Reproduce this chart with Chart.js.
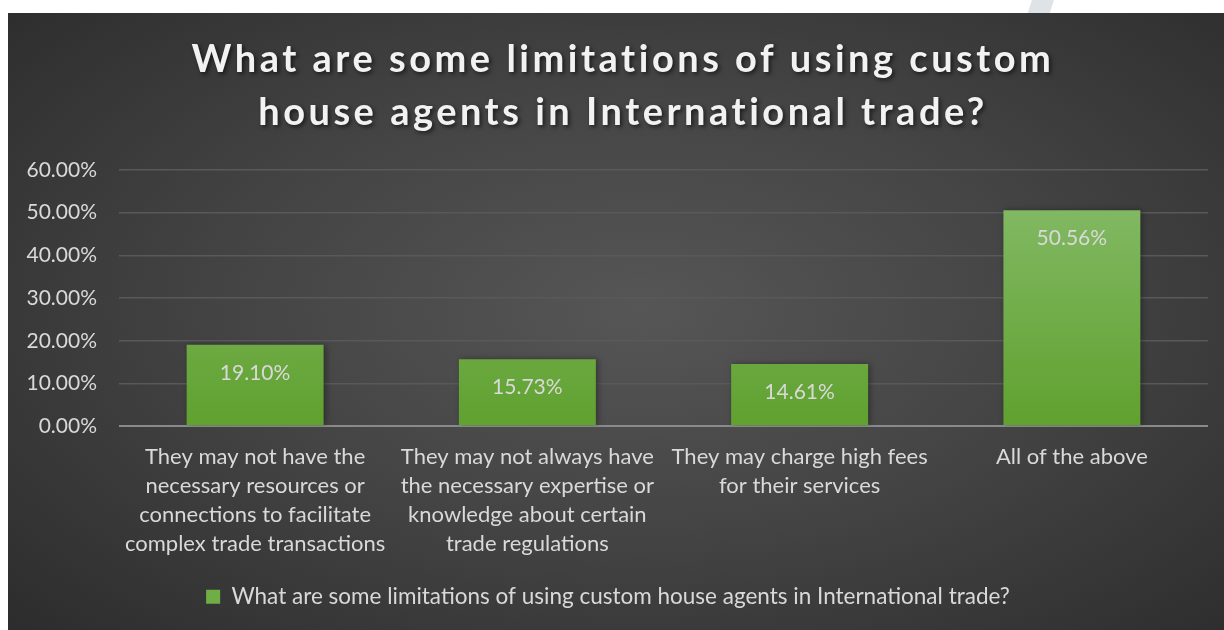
<!DOCTYPE html>
<html>
<head>
<meta charset="utf-8">
<script src="https://cdn.jsdelivr.net/npm/chart.js@4.4.0/dist/chart.umd.min.js"></script>
<style>
  html, body { margin: 0; padding: 0; background: #fff; }
  body { width: 1224px; height: 630px; position: relative; overflow: hidden; }
  .mark {
    position: absolute; left: 1030px; top: -2px; width: 22px; height: 16px;
    background: #dde3e7; transform: skewX(-18deg);
  }
  .panel {
    position: absolute; left: 8px; top: 13px; width: 1216px; height: 617px;
    background: radial-gradient(ellipse 75% 80% at 52% 48%, #565656 0%, #444 45%, #2a2a2a 100%);
  }
</style>
</head>
<body>
<div class="mark"></div>
<div class="panel"><canvas id="limitsChart" width="1216" height="617"></canvas></div>
<script>
// data
const categories = [
    ['They may not have the', 'necessary resources or', 'connections to facilitate', 'complex trade transactions'],
    ['They may not always have', 'the necessary expertise or', 'knowledge about certain', 'trade regulations'],
    ['They may charge high fees', 'for their services'],
    ['All of the above']
];
const shares = [19.10, 15.73, 14.61, 50.56];
const yTicks = [0, 10, 20, 30, 40, 50, 60];
const seriesName = 'What are some limitations of using custom house agents in International trade?';
const titleLines = ['What are some limitations of using custom', 'house agents in International trade?'];

const FONT = 'Lato, "Open Sans", sans-serif';
const textColor = '#d9d9d9';

// titel dengan jarak huruf dan bayangan
const titlePlugin = {
    id: 'bigTitle',
    afterDraw(chart) {
        const ctx = chart.ctx;
        ctx.save();
        ctx.font = 'bold 38px ' + FONT;
        ctx.letterSpacing = '3.5px';
        ctx.textAlign = 'center';
        ctx.textBaseline = 'alphabetic';
        ctx.fillStyle = '#f2f2f2';
        ctx.shadowColor = 'rgba(0,0,0,0.6)';
        ctx.shadowBlur = 4;
        ctx.shadowOffsetX = 2;
        ctx.shadowOffsetY = 2;
        ctx.fillText(titleLines[0], 615, 59);
        ctx.fillText(titleLines[1], 615, 112);
        ctx.restore();
    }
};

// gradasi batang + label nilai
const barPlugin = {
    id: 'barLook',
    beforeDatasetsDraw(chart) {
        const ctx = chart.ctx;
        chart.getDatasetMeta(0).data.forEach(bar => {
            const g = ctx.createLinearGradient(0, bar.y, 0, bar.base);
            g.addColorStop(0, '#81b862');
            g.addColorStop(1, '#60a12f');
            bar.options.backgroundColor = g;
        });
        ctx.save();
        ctx.shadowColor = 'rgba(0,0,0,0.35)';
        ctx.shadowBlur = 6;
        ctx.shadowOffsetX = 2;
    },
    afterDatasetsDraw(chart) {
        const ctx = chart.ctx;
        ctx.restore();
        ctx.save();
        ctx.font = '21px ' + FONT;
        ctx.fillStyle = textColor;
        ctx.textAlign = 'center';
        ctx.textBaseline = 'middle';
        chart.getDatasetMeta(0).data.forEach((bar, i) => {
            ctx.fillText(shares[i].toFixed(2) + '%', bar.x, bar.y + 28);
        });
        ctx.restore();
    }
};

const ctx = document.getElementById('limitsChart').getContext('2d');
const limitsChart = new Chart(ctx, {
    type: 'bar',
    data: {
        labels: categories,
        datasets: [{
            label: seriesName,
            data: shares,
            backgroundColor: '#6fae45',
            barPercentage: 0.503,
            categoryPercentage: 1.0
        }]
    },
    options: {
        responsive: false,
        animation: false,
        layout: { padding: { top: 157, right: 16, left: 0, bottom: 12 } },
        scales: {
            y: {
                min: 0,
                max: 60,
                afterBuildTicks: scale => {
                    scale.ticks = yTicks.map(v => ({ value: v }));
                },
                afterFit: scale => { scale.width = 111; },
                border: { display: false },
                grid: {
                    drawTicks: false,
                    color: c => c.tick && c.tick.value === 0 ? '#8a8a8a' : '#595959',
                    lineWidth: c => c.tick && c.tick.value === 0 ? 2 : 1.5
                },
                ticks: {
                    padding: 22,
                    color: textColor,
                    font: { family: FONT, size: 21 },
                    callback: v => v.toFixed(2) + '%'
                }
            },
            x: {
                border: { display: false },
                grid: { display: false, drawTicks: false },
                ticks: {
                    padding: 16,
                    maxRotation: 0,
                    autoSkip: false,
                    color: textColor,
                    font: { family: FONT, size: 22, lineHeight: 1.32 }
                }
            }
        },
        plugins: {
            title: { display: false },
            tooltip: { enabled: false },
            legend: {
                position: 'bottom',
                labels: {
                    color: textColor,
                    font: { family: FONT, size: 22.5 },
                    boxWidth: 14,
                    boxHeight: 14,
                    padding: 11,
                    generateLabels: () => [{
                        text: seriesName,
                        fillStyle: '#6fae45',
                        strokeStyle: '#6fae45',
                        lineWidth: 0,
                        fontColor: textColor
                    }]
                }
            }
        }
    },
    plugins: [titlePlugin, barPlugin]
});
</script>
</body>
</html>
